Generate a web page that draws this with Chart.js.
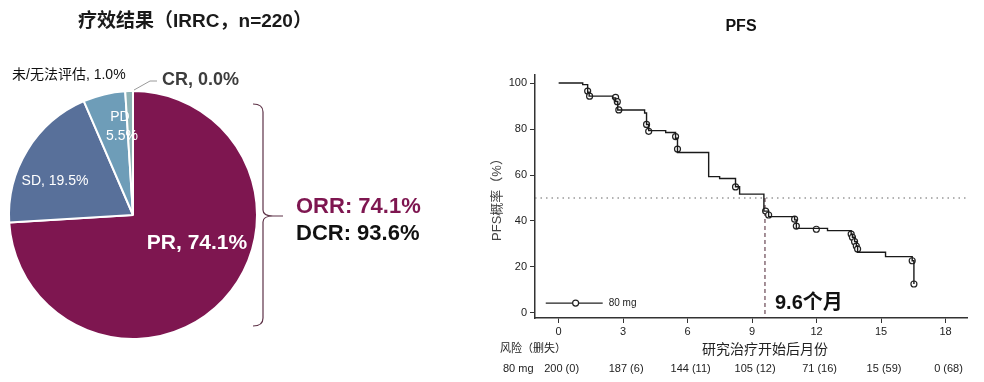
<!DOCTYPE html>
<html>
<head>
<meta charset="utf-8">
<script src="https://cdn.jsdelivr.net/npm/chart.js@4.4.1/dist/chart.umd.min.js"></script>
<style>
  html, body { margin: 0; padding: 0; background: #fff; }
  #wrap { position: relative; width: 984px; height: 382px; overflow: hidden; }
  canvas { position: absolute; top: 0; }
  #pieChart { left: 0; }
  #pfsChart { left: 450px; }
</style>
</head>
<body>
<div id="wrap">
  <canvas id="pieChart" width="450" height="382"></canvas>
  <canvas id="pfsChart" width="534" height="382"></canvas>
</div>
<script>
// response pie
var responseLabels = ['PR', 'SD', 'PD', '未/无法评估', 'CR'];
var responseValues = [74.1, 19.5, 5.5, 1.0, 0.0];
var responseColors = ['#7e1650', '#58709a', '#6e9db8', '#8fb2b5', '#b0c8cc'];
var orrValue = 74.1;
var dcrValue = 93.6;

// PFS Kaplan-Meier (months, %)
var kmTimes = [0, 1.12, 1.35, 1.42, 2.51, 2.65, 2.75, 4.0, 4.09, 4.19, 4.98, 5.44, 5.53, 6.98, 7.49, 8.23, 8.42, 9.55, 9.77, 10.98, 11.06, 12.51, 13.61, 13.67, 13.77, 13.85, 13.91, 15.21, 16.45, 16.53];
var kmSurv  = [100, 99.3, 96, 94.3, 93.5, 92, 88.3, 87, 82, 79.3, 78.5, 76, 69.8, 59.3, 58.5, 54.9, 51.7, 44.3, 41.9, 40.5, 36.8, 35.8, 34.3, 32.9, 31, 29.1, 26.4, 24.5, 22.7, 12.6];
var censorTimes = [1.35, 1.44, 2.65, 2.73, 2.8, 4.09, 4.19, 5.44, 5.53, 8.23, 9.63, 9.77, 10.98, 11.06, 11.99, 13.61, 13.67, 13.77, 13.85, 13.91, 16.45, 16.53];
var censorSurv  = [96.5, 94.3, 93.8, 91.9, 88.3, 82, 79, 76.7, 71.3, 54.8, 44.3, 42.6, 40.8, 37.8, 36.4, 34.3, 32.9, 31, 29.1, 27.8, 22.7, 12.6];
var medianPFS = 9.6;
var xTicks = [0, 3, 6, 9, 12, 15, 18];
var yTicks = [0, 20, 40, 60, 80, 100];
var riskTimes = [0, 3, 6, 9, 12, 15, 18];
var riskAtRisk = [200, 187, 144, 105, 71, 15, 0];
var riskCensored = [0, 6, 11, 12, 16, 59, 68];

var FONT = '"Liberation Sans", "Noto Sans CJK SC", Arial, sans-serif';
Chart.defaults.font.family = FONT;

function txt(ctx, s, x, y, font, color, align) {
    ctx.font = font;
    ctx.fillStyle = color;
    ctx.textAlign = align || 'center';
    ctx.textBaseline = 'middle';
    ctx.fillText(s, x, y);
}

var pieText = {
    id: 'pieText',
    afterDraw: function(chart) {
        var ctx = chart.ctx;
        var arc = chart.getDatasetMeta(0).data[0];
        var cx = arc.x, cy = arc.y;
        ctx.save();
        txt(ctx, '疗效结果（IRRC，n=220）', 195, 22, 'bold 19px ' + FONT, '#1a1a1a');
        txt(ctx, 'PR, ' + responseValues[0].toFixed(1) + '%', cx + 64, cy + 28, 'bold 21px ' + FONT, '#fff');
        txt(ctx, 'SD, ' + responseValues[1].toFixed(1) + '%', cx - 78, cy - 34, '14px ' + FONT, '#fff');
        txt(ctx, 'PD', cx - 13, cy - 98, '14px ' + FONT, '#fff');
        txt(ctx, responseValues[2].toFixed(1) + '%', cx - 11, cy - 79, '14px ' + FONT, '#fff');
        txt(ctx, responseLabels[3] + ', ' + responseValues[3].toFixed(1) + '%', 12, 75, '14px ' + FONT, '#111', 'left');
        txt(ctx, 'CR, ' + responseValues[4].toFixed(1) + '%', 162, 80, 'bold 18px ' + FONT, '#3d3d3d', 'left');
        // leader line for CR
        ctx.strokeStyle = '#9a9a9a';
        ctx.lineWidth = 1;
        ctx.beginPath();
        ctx.moveTo(cx + 1, cy - 125);
        ctx.lineTo(cx + 17, cy - 134);
        ctx.lineTo(cx + 24, cy - 134);
        ctx.stroke();
        // brace
        var bx = 263, top = 104, bot = 326, mid = 216;
        ctx.strokeStyle = '#5e3348';
        ctx.lineWidth = 1.2;
        ctx.beginPath();
        ctx.moveTo(bx - 10, top);
        ctx.quadraticCurveTo(bx, top, bx, top + 8);
        ctx.lineTo(bx, mid - 6);
        ctx.quadraticCurveTo(bx, mid, bx + 10, mid);
        ctx.lineTo(bx + 20, mid);
        ctx.moveTo(bx + 10, mid);
        ctx.quadraticCurveTo(bx, mid, bx, mid + 6);
        ctx.lineTo(bx, bot - 8);
        ctx.quadraticCurveTo(bx, bot, bx - 10, bot);
        ctx.stroke();
        txt(ctx, 'ORR: ' + orrValue.toFixed(1) + '%', 296, 207, 'bold 22px ' + FONT, '#7e1650', 'left');
        txt(ctx, 'DCR: ' + dcrValue.toFixed(1) + '%', 296, 234, 'bold 22px ' + FONT, '#111', 'left');
        ctx.restore();
    }
};

new Chart(document.getElementById('pieChart'), {
    type: 'pie',
    data: {
        labels: responseLabels,
        datasets: [{
            data: responseValues,
            backgroundColor: responseColors,
            borderColor: '#ffffff',
            borderWidth: 2
        }]
    },
    options: {
        responsive: false,
        animation: false,
        layout: { padding: { left: 8, right: 192, top: 90, bottom: 42 } },
        plugins: { legend: { display: false }, tooltip: { enabled: false } }
    },
    plugins: [pieText]
});

var pfsText = {
    id: 'pfsText',
    afterDraw: function(chart) {
        var ctx = chart.ctx;
        var xs = chart.scales.x, ys = chart.scales.y;
        var off = 450;
        ctx.save();
        txt(ctx, 'PFS', 741 - off, 27, 'bold 16px ' + FONT, '#111');
        // legend inside plot
        var ly = ys.getPixelForValue(4.3);
        ctx.strokeStyle = '#222';
        ctx.lineWidth = 1.2;
        ctx.beginPath();
        ctx.moveTo(xs.getPixelForValue(-0.6), ly);
        ctx.lineTo(xs.getPixelForValue(2.05), ly);
        ctx.stroke();
        ctx.beginPath();
        ctx.fillStyle = '#fff';
        ctx.arc(xs.getPixelForValue(0.79), ly, 3, 0, Math.PI * 2);
        ctx.fill();
        ctx.stroke();
        txt(ctx, '80 mg', xs.getPixelForValue(2.05) + 6, ly, '10px ' + FONT, '#222', 'left');
        // median label
        txt(ctx, medianPFS.toFixed(1) + '个月', xs.getPixelForValue(medianPFS) + 10, 303, 'bold 20px ' + FONT, '#111', 'left');
        // x title
        txt(ctx, '研究治疗开始后月份', 765 - off, 350, '14px ' + FONT, '#222');
        // risk table
        txt(ctx, '风险（删失）', 500 - off, 349, '11px ' + FONT, '#222', 'left');
        txt(ctx, '80 mg', 503 - off, 369, '11px ' + FONT, '#222', 'left');
        for (var i = 0; i < riskTimes.length; i++) {
            txt(ctx, riskAtRisk[i] + ' (' + riskCensored[i] + ')', xs.getPixelForValue(riskTimes[i]) + 3, 369, '11px ' + FONT, '#222');
        }
        ctx.restore();
    }
};

new Chart(document.getElementById('pfsChart'), {
    type: 'line',
    data: {
        datasets: [{
            data: kmTimes.map(function(t, i) { return { x: t, y: kmSurv[i] }; }),
            stepped: true,
            borderColor: '#1a1a1a',
            borderWidth: 1.4,
            pointRadius: 0,
            fill: false
        }, {
            data: censorTimes.map(function(t, i) { return { x: t, y: censorSurv[i] }; }),
            showLine: false,
            pointRadius: 3,
            pointStyle: 'circle',
            pointBorderColor: '#222',
            pointBackgroundColor: '#fff',
            pointBorderWidth: 1.2
        }, {
            data: [{ x: -1.1, y: 50 }, { x: 19, y: 50 }],
            borderColor: '#666',
            borderWidth: 1.2,
            borderDash: [1.5, 4],
            pointRadius: 0
        }, {
            data: [{ x: medianPFS, y: 50 }, { x: medianPFS, y: -2.2 }],
            borderColor: '#4a2030',
            borderWidth: 1,
            borderDash: [4, 3],
            pointRadius: 0
        }]
    },
    options: {
        responsive: false,
        animation: false,
        layout: { padding: { left: 38, right: 17, top: 75, bottom: 44 } },
        plugins: { legend: { display: false }, tooltip: { enabled: false } },
        scales: {
            x: {
                type: 'linear',
                min: -1.1,
                max: 19,
                afterBuildTicks: function(s) { s.ticks = xTicks.map(function(v) { return { value: v }; }); },
                afterFit: function(s) { s.height = 20; },
                grid: { drawOnChartArea: false, tickLength: 5, color: '#333' },
                border: { color: '#333', width: 1.5 },
                ticks: { padding: 2, color: '#222', font: { size: 11 } }
            },
            y: {
                min: -2.2,
                max: 103.5,
                afterBuildTicks: function(s) { s.ticks = yTicks.map(function(v) { return { value: v }; }); },
                afterFit: function(s) { s.width = 47; },
                grid: { drawOnChartArea: false, tickLength: 5, color: '#333' },
                border: { color: '#333', width: 1.5 },
                ticks: { padding: 3, color: '#222', font: { size: 11 } },
                title: { display: true, text: 'PFS概率（%）', color: '#444', font: { size: 13 }, padding: { top: 2, bottom: 2 } }
            }
        }
    },
    plugins: [pfsText]
});
</script>
</body>
</html>
